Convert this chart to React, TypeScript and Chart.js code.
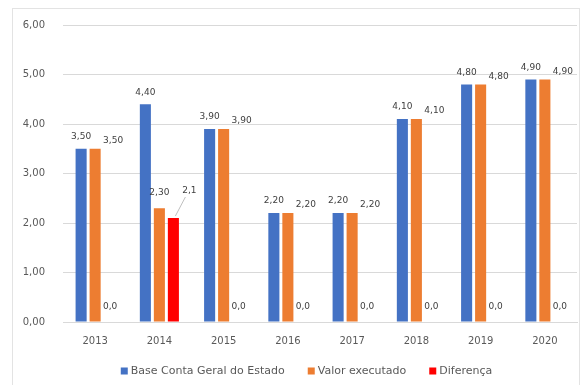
import React, { useEffect, useRef } from "react";
import { Chart, registerables } from "chart.js";

Chart.register(...registerables);

const categories = ["2013", "2014", "2015", "2016", "2017", "2018", "2019", "2020"];
const baseConta = [3.5, 4.4, 3.9, 2.2, 2.2, 4.1, 4.8, 4.9];
const valorExecutado = [3.5, 2.3, 3.9, 2.2, 2.2, 4.1, 4.8, 4.9];
const diferenca = [0, 2.1, 0, 0, 0, 0, 0, 0];
const yTicks = [0, 1, 2, 3, 4, 5, 6];

const FONT = "'DejaVu Sans', sans-serif";

const fmt = (v: number, d: number) => v.toFixed(d).replace(".", ",");

const labelPlugin = {
  id: "dataLabels",
  afterDatasetsDraw(chart: any) {
    const ctx = chart.ctx;
    ctx.save();
    ctx.font = `9px ${FONT}`;
    ctx.fillStyle = "#404040";
    ctx.textAlign = "center";
    ctx.textBaseline = "middle";
    chart.data.datasets.forEach((ds: any, di: number) => {
      const meta = chart.getDatasetMeta(di);
      meta.data.forEach((el: any, i: number) => {
        const v = ds.data[i] as number;
        const x = el.x;
        const y = el.y;
        if (di === 0) {
          ctx.fillText(fmt(v, 2), x, y - 12);
        } else if (di === 1) {
          if (diferenca[i] > 0) ctx.fillText(fmt(v, 2), x, y - 15);
          else ctx.fillText(fmt(v, 2), x + 18, y - 8);
        } else {
          if (v > 0) {
            ctx.strokeStyle = "#BFBFBF";
            ctx.lineWidth = 1;
            ctx.beginPath();
            ctx.moveTo(x + 2, y - 2);
            ctx.lineTo(x + 12, y - 21);
            ctx.stroke();
            ctx.fillText(fmt(v, 1), x + 16, y - 27);
          } else {
            ctx.fillText(fmt(v, 1), x + 1, y - 15);
          }
        }
      });
    });
    ctx.restore();
  },
};

const legendPlugin = {
  id: "customLegend",
  afterDraw(chart: any) {
    const ctx = chart.ctx;
    ctx.save();
    ctx.font = `11px ${FONT}`;
    ctx.textBaseline = "middle";
    ctx.textAlign = "left";
    const box = 7;
    const gapText = 3;
    const gapItem = 23;
    const items = chart.data.datasets.map((ds: any) => ({
      text: ds.label as string,
      color: ds.backgroundColor as string,
      w: ctx.measureText(ds.label).width,
    }));
    const total =
      items.reduce((s: number, it: any) => s + box + gapText + it.w, 0) + gapItem * (items.length - 1);
    let x = chart.width / 2 + 15 - total / 2;
    const y = chart.height - 14;
    items.forEach((it: any) => {
      ctx.fillStyle = it.color;
      ctx.fillRect(x, y - box / 2, box, box);
      ctx.fillStyle = "#595959";
      ctx.fillText(it.text, x + box + gapText, y);
      x += box + gapText + it.w + gapItem;
    });
    ctx.restore();
  },
};

export default function App() {
  const ref = useRef<HTMLCanvasElement>(null);
  useEffect(() => {
    if (!ref.current) return;
    const chart = new Chart(ref.current, {
      type: "bar",
      data: {
        labels: categories,
        datasets: [
          { label: "Base Conta Geral do Estado", data: baseConta, backgroundColor: "#4472C4" },
          { label: "Valor executado", data: valorExecutado, backgroundColor: "#ED7D31" },
          { label: "Diferença", data: diferenca, backgroundColor: "#FF0000" },
        ],
      },
      options: {
        animation: false,
        responsive: false,
        maintainAspectRatio: false,
        datasets: { bar: { categoryPercentage: 0.654, barPercentage: 0.79 } },
        layout: { padding: { top: 25, right: 6, left: 0, bottom: 29 } },
        plugins: {
          legend: { display: false },
          tooltip: { enabled: false },
        },
        scales: {
          x: {
            grid: { display: false, drawTicks: false },
            border: { display: true, color: "#D9D9D9" },
            ticks: { color: "#595959", padding: 13, font: { size: 10, family: FONT } },
            afterFit: (s: any) => {
              s.height = 34;
            },
          },
          y: {
            min: 0,
            max: 6,
            afterBuildTicks: (s: any) => {
              s.ticks = yTicks.map((v) => ({ value: v }));
            },
            grid: { color: "#D9D9D9", drawTicks: false },
            border: { display: false },
            ticks: {
              color: "#595959",
              padding: 18,
              font: { size: 10, family: FONT },
              callback: (v: any) => fmt(Number(v), 2),
            },
            afterFit: (s: any) => {
              s.width = 63;
            },
          },
        },
      },
      plugins: [labelPlugin, legendPlugin],
    });
    return () => chart.destroy();
  }, []);
  return (
    <div style={{ position: "fixed", left: 0, top: 0, width: 583, height: 385, background: "#fff" }}>
      <div
        style={{
          position: "absolute",
          left: 12,
          top: 8,
          width: 568,
          height: 390,
          border: "1px solid #E3E3E3",
          boxSizing: "border-box",
        }}
      />
      <canvas ref={ref} width={583} height={385} style={{ position: "absolute", left: 0, top: 0 }} />
    </div>
  );
}
